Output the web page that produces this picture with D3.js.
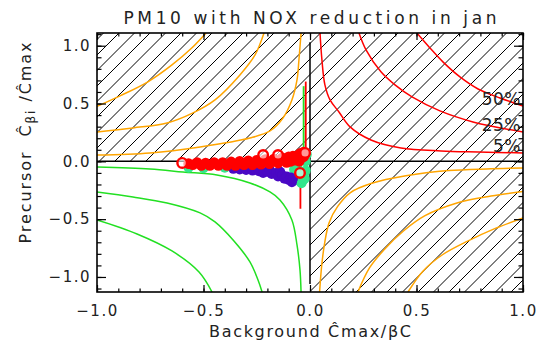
<!DOCTYPE html>
<html>
<head>
<meta charset="utf-8">
<script src="https://cdn.jsdelivr.net/npm/d3@7"></script>
<style>
  body { margin: 0; background: #fff; }
  svg text { font-family: "DejaVu Sans", sans-serif; fill: #222; white-space: pre; }
</style>
</head>
<body>
<svg id="chart" width="539" height="346"></svg>
<script>
// ---- data ----
const xMajor = [-1.0, -0.5, 0.0, 0.5, 1.0];
const yMajor = [-1.0, -0.5, 0.0, 0.5, 1.0];
const tickLabels = ['\u22121.0', '\u22120.5', '0.0', '0.5', '1.0'];

// red contours (upper right), with their labels
const contour5  = [[0.047,1.11],[0.056,0.877],[0.070,0.661],[0.094,0.531],[0.136,0.427],[0.188,0.298],[0.286,0.185],[0.427,0.116],[0.615,0.090],[0.789,0.081],[1.0,0.073]];
const contour25 = [[0.230,1.11],[0.263,0.964],[0.333,0.774],[0.399,0.661],[0.479,0.557],[0.610,0.436],[0.765,0.341],[1.0,0.254]];
const contour50 = [[0.502,1.11],[0.563,0.981],[0.624,0.860],[0.704,0.730],[0.789,0.626],[0.892,0.548],[1.0,0.479]];
const redLabels = ['5%', '25%', '50%'];

// orange contours, upper left
const orangeUL1 = [[-1.0,0.475],[-0.892,0.566],[-0.761,0.688],[-0.648,0.834],[-0.554,0.982],[-0.488,1.11]];
const orangeUL2 = [[-1.0,0.254],[-0.831,0.289],[-0.671,0.332],[-0.549,0.419],[-0.446,0.531],[-0.329,0.747],[-0.258,0.920],[-0.216,1.11]];
const orangeUL3 = [[-1.0,0.055],[-0.751,0.073],[-0.516,0.125],[-0.282,0.202],[-0.188,0.263],[-0.127,0.375],[-0.085,0.531],[-0.061,0.704],[-0.052,0.877],[-0.042,1.11]];
// orange contours, lower right
const orangeLR1 = [[0.045,-1.13],[0.055,-0.90],[0.068,-0.715],[0.09,-0.53],[0.13,-0.39],[0.19,-0.27],[0.29,-0.19],[0.45,-0.125],[0.65,-0.08],[0.85,-0.065],[1.0,-0.057]];
const orangeLR2 = [[0.225,-1.13],[0.28,-0.92],[0.35,-0.76],[0.44,-0.60],[0.54,-0.47],[0.69,-0.36],[0.85,-0.30],[1.0,-0.26]];
const orangeLR3 = [[0.46,-1.13],[0.53,-0.95],[0.62,-0.81],[0.74,-0.69],[0.87,-0.58],[1.0,-0.49]];
// green contours, lower left
const green1 = [[-1.0,-0.048],[-0.751,-0.066],[-0.596,-0.092],[-0.437,-0.118],[-0.282,-0.187],[-0.188,-0.265],[-0.141,-0.334],[-0.085,-0.507],[-0.061,-0.723],[-0.047,-0.939],[-0.042,-1.13]];
const green2 = [[-1.0,-0.265],[-0.831,-0.308],[-0.671,-0.360],[-0.516,-0.446],[-0.446,-0.524],[-0.357,-0.689],[-0.282,-0.870],[-0.244,-1.026],[-0.225,-1.13]];
const green3 = [[-1.0,-0.507],[-0.812,-0.628],[-0.648,-0.775],[-0.521,-0.957],[-0.460,-1.13]];

// scatter points
const greenPts = [[-0.57,-0.055],[-0.50,-0.06],[-0.40,-0.055],[-0.30,-0.06],[-0.06,-0.04],[-0.075,-0.07],[-0.065,-0.10],[-0.06,-0.14],[-0.05,-0.17],[-0.04,-0.19],[-0.035,-0.17],[-0.03,-0.12],[-0.025,-0.15],[-0.02,-0.08],[-0.02,0.0],[-0.015,0.06]];
const bluePts = [[-0.36,-0.065],[-0.33,-0.07],[-0.30,-0.075],[-0.27,-0.08],[-0.24,-0.085],[-0.22,-0.10],[-0.20,-0.09],[-0.19,-0.07],[-0.18,-0.11],[-0.16,-0.10],[-0.15,-0.13],[-0.14,-0.09],[-0.13,-0.12],[-0.12,-0.15],[-0.11,-0.13],[-0.10,-0.16],[-0.09,-0.14],[-0.085,-0.18],[-0.08,-0.15]];
const redPts = [[-0.57,-0.02],[-0.55,-0.03],[-0.53,-0.01],[-0.51,-0.035],[-0.49,-0.015],[-0.47,-0.035],[-0.45,-0.01],[-0.43,-0.035],[-0.41,-0.01],[-0.39,-0.035],[-0.37,-0.005],[-0.35,-0.035],[-0.33,0.0],[-0.31,-0.03],[-0.29,0.005],[-0.27,-0.03],[-0.25,0.01],[-0.23,-0.025],[-0.21,0.015],[-0.19,-0.02],[-0.17,0.02],[-0.15,-0.015],[-0.13,0.03],[-0.11,-0.01],[-0.10,0.04],[-0.09,0.0],[-0.08,0.045],[-0.07,0.01],[-0.06,0.05],[-0.05,0.0],[-0.045,0.07],[-0.04,0.03],[-0.03,0.08],[-0.03,0.04],[-0.025,0.06]];
const redRings = [[-0.60,-0.014],[-0.047,-0.10],[-0.023,0.073],[-0.22,0.055],[-0.15,0.055]];
// vertical bars: x, top, bottom
const redBars = [[-0.02,0.69,0.07],[-0.045,0.07,-0.41]];
const greenBars = [[-0.03,0.65,-0.02]];

// ---- drawing ----
const svg = d3.select('#chart');
const x = d3.scaleLinear().domain([-1, 1]).range([97, 523]);
const y = d3.scaleLinear().domain([-1.13, 1.11]).range([292, 33]);
const [x0, x1] = x.range();
const [y0, y1] = y.range();

const defs = svg.append('defs');
defs.append('clipPath').attr('id', 'plot-clip')
  .append('rect').attr('x', x0).attr('y', y1).attr('width', x1 - x0).attr('height', y0 - y1);

// hatched area: upper-left quadrant + right half
const hatchClip = defs.append('clipPath').attr('id', 'hatch-clip');
hatchClip.append('rect').attr('x', x(-1)).attr('y', y(1.11)).attr('width', x(0) - x(-1)).attr('height', y(0) - y(1.11));
hatchClip.append('rect').attr('x', x(0)).attr('y', y(1.11)).attr('width', x(1) - x(0)).attr('height', y(-1.13) - y(1.11));

const hatchStep = 15.5;
svg.append('g').attr('clip-path', 'url(#hatch-clip)')
  .selectAll('line').data(d3.range(-10, 60).map(k => 276 + k * hatchStep))
  .join('line')
  .attr('x1', c => c - y0).attr('y1', y0)
  .attr('x2', c => c - y1).attr('y2', y1)
  .attr('stroke', '#000').attr('stroke-width', 1);

const line = d3.line().x(d => x(d[0])).y(d => y(d[1])).curve(d3.curveCatmullRom);
const plot = svg.append('g').attr('clip-path', 'url(#plot-clip)');

const contours = [
  { pts: green1, c: '#22e022' }, { pts: green2, c: '#22e022' }, { pts: green3, c: '#22e022' },
  { pts: orangeUL1, c: '#ffa500' }, { pts: orangeUL2, c: '#ffa500' }, { pts: orangeUL3, c: '#ffa500' },
  { pts: orangeLR1, c: '#ffa500' }, { pts: orangeLR2, c: '#ffa500' }, { pts: orangeLR3, c: '#ffa500' },
  { pts: contour5, c: '#ff0000' }, { pts: contour25, c: '#ff0000' }, { pts: contour50, c: '#ff0000' }
];
plot.selectAll('path.contour').data(contours).join('path')
  .attr('class', 'contour')
  .attr('d', d => line(d.pts))
  .attr('fill', 'none').attr('stroke', d => d.c).attr('stroke-width', 1.5);

// zero lines
plot.append('line').attr('x1', x(-1)).attr('x2', x(1)).attr('y1', y(0)).attr('y2', y(0))
  .attr('stroke', '#000').attr('stroke-width', 1.5);
plot.append('line').attr('x1', x(0)).attr('x2', x(0)).attr('y1', y(1.03)).attr('y2', y(-1.06))
  .attr('stroke', '#000').attr('stroke-width', 1.5);

// contour labels
const labelPts = [contour5, contour25, contour50];
svg.append('g').selectAll('text').data(redLabels).join('text')
  .attr('x', 521)
  .attr('y', (d, i) => y(labelPts[i][labelPts[i].length - 1][1]) - 1)
  .attr('text-anchor', 'end').attr('font-size', 17).attr('letter-spacing', '0.5px')
  .attr('fill', '#111')
  .text(d => d);

// bars
plot.selectAll('line.gbar').data(greenBars).join('line').attr('class', 'gbar')
  .attr('x1', d => x(d[0])).attr('x2', d => x(d[0])).attr('y1', d => y(d[1])).attr('y2', d => y(d[2]))
  .attr('stroke', '#22e022').attr('stroke-width', 1.8);
plot.selectAll('line.rbar').data(redBars).join('line').attr('class', 'rbar')
  .attr('x1', d => x(d[0])).attr('x2', d => x(d[0])).attr('y1', d => y(d[1])).attr('y2', d => y(d[2]))
  .attr('stroke', '#ff0000').attr('stroke-width', 1.8);

// scatter
const scatter = [
  { pts: greenPts, c: '#33e68c', r: 5 },
  { pts: bluePts, c: '#4a08c4', r: 5 },
  { pts: redPts, c: '#ff0000', r: 5.3 }
];
scatter.forEach(s => {
  plot.append('g').selectAll('circle').data(s.pts).join('circle')
    .attr('cx', d => x(d[0])).attr('cy', d => y(d[1])).attr('r', s.r)
    .attr('fill', s.c);
});
plot.append('g').selectAll('circle').data(redRings).join('circle')
  .attr('cx', d => x(d[0])).attr('cy', d => y(d[1])).attr('r', 4.8)
  .attr('fill', '#fff').attr('fill-opacity', 0.6).attr('stroke', '#ff0000').attr('stroke-width', 2.4);

// ---- axes ----
const xMinor = d3.range(-10, 11).map(i => i / 10);
const yMinor = d3.range(-11, 12).map(i => i / 10);
const fmt = d => tickLabels[xMajor.indexOf(d)];

function styleAxis(g) {
  g.select('.domain').remove();
  g.selectAll('.tick line').attr('stroke', '#000').attr('stroke-width', 1.2);
  g.selectAll('text').attr('font-size', 15).attr('letter-spacing', '1.5px').attr('fill', '#222')
    .attr('font-family', '"DejaVu Sans", sans-serif');
}

svg.append('g').attr('transform', `translate(0,${y0})`)
  .call(d3.axisBottom(x).tickValues(xMinor).tickSize(-3.5).tickFormat('')).call(styleAxis);
svg.append('g').attr('transform', `translate(0,${y0})`)
  .call(d3.axisBottom(x).tickValues(xMajor).tickSize(-7).tickPadding(13).tickFormat(fmt)).call(styleAxis);
svg.append('g').attr('transform', `translate(0,${y1})`)
  .call(d3.axisTop(x).tickValues(xMinor).tickSize(-3.5).tickFormat('')).call(styleAxis);
svg.append('g').attr('transform', `translate(0,${y1})`)
  .call(d3.axisTop(x).tickValues(xMajor).tickSize(-7).tickFormat('')).call(styleAxis);

svg.append('g').attr('transform', `translate(${x0},0)`)
  .call(d3.axisLeft(y).tickValues(yMinor).tickSize(-4.5).tickFormat('')).call(styleAxis);
svg.append('g').attr('transform', `translate(${x0},0)`)
  .call(d3.axisLeft(y).tickValues(yMajor).tickSize(-9).tickPadding(6).tickFormat(d => tickLabels[yMajor.indexOf(d)])).call(styleAxis);
svg.append('g').attr('transform', `translate(${x1},0)`)
  .call(d3.axisRight(y).tickValues(yMinor).tickSize(-4.5).tickFormat('')).call(styleAxis);
svg.append('g').attr('transform', `translate(${x1},0)`)
  .call(d3.axisRight(y).tickValues(yMajor).tickSize(-9).tickFormat('')).call(styleAxis);

svg.append('rect').attr('x', x0).attr('y', y1).attr('width', x1 - x0).attr('height', y0 - y1)
  .attr('fill', 'none').attr('stroke', '#000').attr('stroke-width', 1.6);

// ---- titles ----
svg.append('text').attr('x', (x0 + x1) / 2).attr('y', 24)
  .attr('text-anchor', 'middle').attr('font-size', 17)
  .attr('textLength', 373).attr('lengthAdjust', 'spacing')
  .text('PM10 with NOX reduction in jan');

svg.append('text').attr('x', (x0 + x1) / 2).attr('y', 337)
  .attr('text-anchor', 'middle').attr('font-size', 16)
  .attr('textLength', 202).attr('lengthAdjust', 'spacing')
  .text('Background \u0108max/\u03b2C');

const yTitle = svg.append('text')
  .attr('transform', 'translate(31,143) rotate(-90)')
  .attr('text-anchor', 'middle').attr('font-size', 16)
  .attr('textLength', 201).attr('lengthAdjust', 'spacing');
yTitle.append('tspan').text('Precursor  \u0108');
yTitle.append('tspan').attr('font-size', 12).attr('dy', 4).text('\u03b2i');
yTitle.append('tspan').attr('dy', -4).text(' /\u0108max');
</script>
</body>
</html>
